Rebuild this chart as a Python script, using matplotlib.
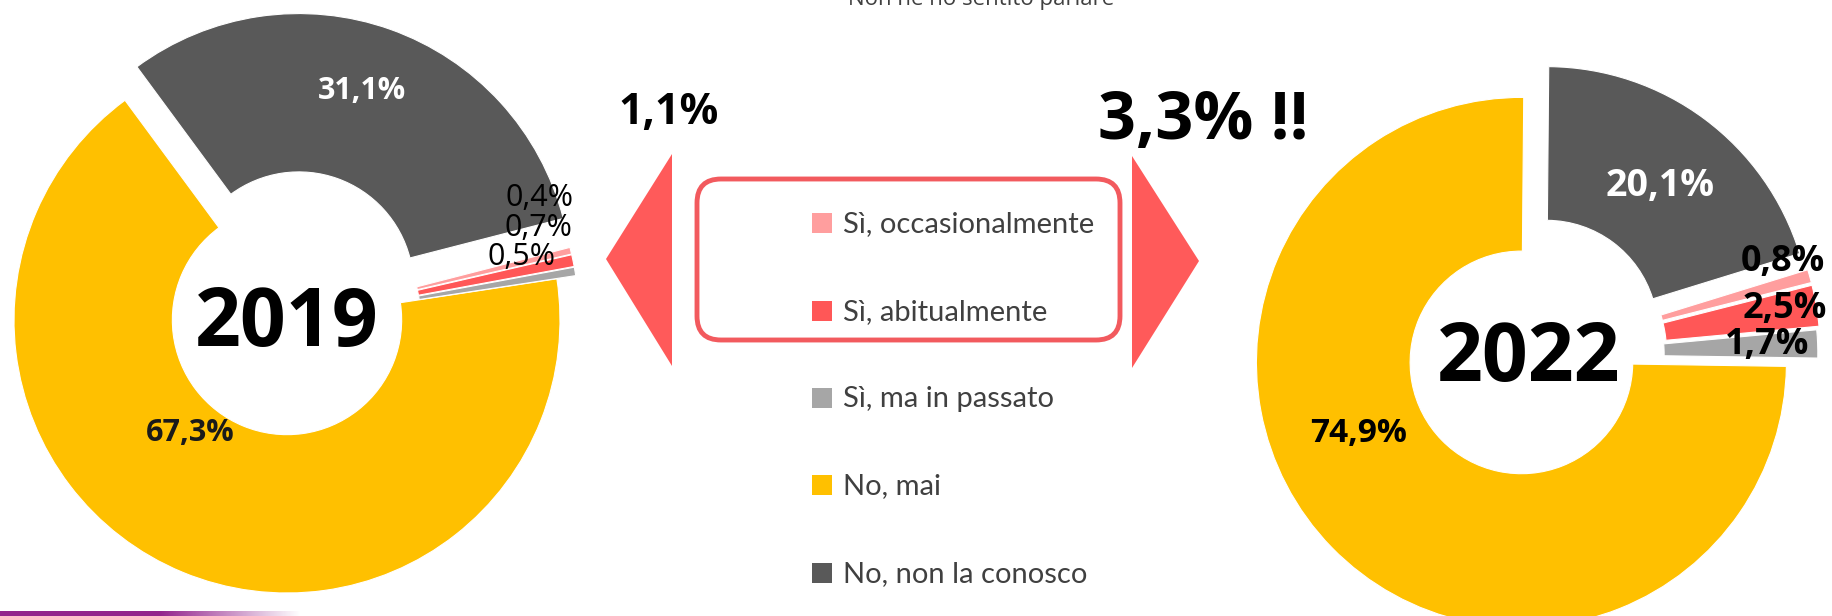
import matplotlib.pyplot as plt
import numpy as np
from matplotlib.patches import Polygon, FancyBboxPatch, Rectangle

# data
categories = ["Sì, occasionalmente", "Sì, abitualmente", "Sì, ma in passato",
              "No, mai", "No, non la conosco"]
values_2019 = [0.4, 0.7, 0.5, 67.3, 31.1]
values_2022 = [0.8, 2.5, 1.7, 74.9, 20.1]
total_si_2019 = "1,1%"
total_si_2022 = "3,3% !!"
colors = ["#FF9E9E", "#FF5757", "#A6A6A6", "#FFC000", "#595959"]

W, H = 1833, 616
fig = plt.figure(figsize=(W / 100, H / 100), dpi=100)


def fmt(v):
    return ("%.1f%%" % v).replace(".", ",")


def donut(cx, cy, r, vals, start, explode, year):
    # pie drawn in the order: No mai, passato, abitualmente, occasionalmente, non conosco
    order = [3, 2, 1, 0, 4]
    L = 1.4
    ax = fig.add_axes([(cx - L * r) / W, (H - cy - L * r) / H, 2 * L * r / W, 2 * L * r / H])
    wedges, _ = ax.pie([vals[i] for i in order], colors=[colors[i] for i in order],
                       startangle=start, counterclock=True,
                       explode=[explode[i] for i in order],
                       wedgeprops=dict(width=0.58, edgecolor="white", linewidth=0.8))
    ax.set_xlim(-L, L)
    ax.set_ylim(-L, L)
    ax.set_aspect("equal")
    ax.text(0, -0.02, year, ha="center", va="center", fontsize=58,
            fontweight="bold", family="Open Sans", color="black")
    return ax


donut(287, 320, 273, values_2019, 126.4, [0.07, 0.07, 0.07, 0.0, 0.13], "2019")
donut(1529, 355, 265, values_2022, 89.5, [0.1, 0.1, 0.09, 0.04, 0.11], "2022")

# overlay in pixel coordinates
ax0 = fig.add_axes([0, 0, 1, 1])
ax0.set_xlim(0, W)
ax0.set_ylim(H, 0)
ax0.axis("off")

# percentage labels
lab19 = [(540, 198), (538, 228), (522, 257), (190, 433), (362, 91)]
lab22 = [(1783, 262), (1785, 309), (1767, 345), (1359, 434), (1660, 186)]
for i in range(5):
    col = "white" if i == 4 else "black"
    if i >= 3:
        ax0.text(*lab19[i], fmt(values_2019[i]), ha="center", va="center", fontsize=22,
                 fontweight="bold", family="Open Sans", color=col if i == 4 else "#1a1a1a")
    else:
        ax0.text(*lab19[i], fmt(values_2019[i]), ha="center", va="center", fontsize=22,
                 family="Open Sans", color="black")
    ax0.text(*lab22[i], fmt(values_2022[i]), ha="center", va="center",
             fontsize=27 if i == 4 else (24 if i == 3 else 26), fontweight="bold",
             family="Open Sans", color=col)

# totals
ax0.text(669, 113, total_si_2019, ha="center", va="center", fontsize=31,
         fontweight="bold", family="Open Sans")
ax0.text(1098, 122, total_si_2022, ha="left", va="center", fontsize=48,
         fontweight="bold", family="Open Sans")

# arrows
red = "#FF5A5A"
ax0.add_patch(Polygon([(606, 259), (672, 154), (672, 366)], closed=True, color=red, lw=0))
ax0.add_patch(Polygon([(1199, 261), (1132, 156), (1132, 368)], closed=True, color=red, lw=0))

# highlight box
ax0.add_patch(FancyBboxPatch((697, 179), 423, 161, boxstyle="round,pad=0,rounding_size=24",
                             fill=False, edgecolor="#F25A5E", lw=3.5))

# legend
ys = [223, 311, 398, 485, 573]
for i, lab in enumerate(categories):
    ax0.add_patch(Rectangle((812, ys[i] - 10), 20, 20, color=colors[i], lw=0))
    ax0.text(843, ys[i] + 1, lab, ha="left", va="center", fontsize=21,
             family="Lato", color="#404040")

# cut-off heading of the source slide
ax0.text(981, 5, "Non ne ho sentito parlare", ha="center", va="baseline",
         fontsize=16, family="Open Sans", color="#404040")

# purple accent line at bottom left
xs = np.arange(300)
grad = np.zeros((1, 300, 4))
grad[..., 0] = 0.58
grad[..., 1] = 0.14
grad[..., 2] = 0.55
grad[..., 3] = np.clip((300 - xs) / 140.0, 0, 1)
ax0.imshow(grad, extent=(0, 300, 616, 611), aspect="auto", interpolation="bilinear")
ax0.set_xlim(0, W)
ax0.set_ylim(H, 0)

fig.savefig("out.png", dpi=100)
